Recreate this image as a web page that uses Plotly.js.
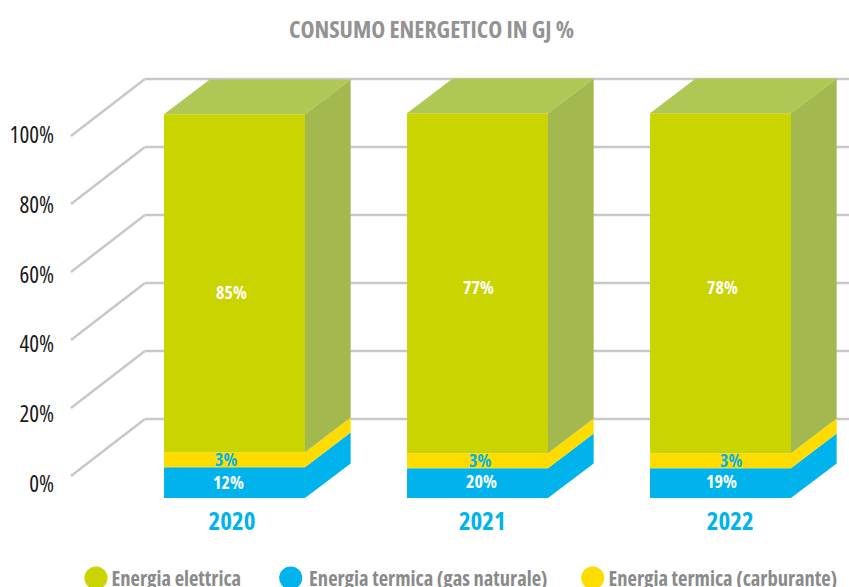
<!DOCTYPE html>
<html>
<head>
<meta charset="utf-8">
<script src="https://cdn.plot.ly/plotly-3.0.1.min.js"></script>
<style>html,body{margin:0;padding:0;background:#fff;overflow:hidden}#chart{width:849px;height:587px}
.main-svg text{font-stretch:75%}</style>
</head>
<body>
<div id="chart"></div>
<script>
// Categories and printed values
const years = ['2020', '2021', '2022'];
const seriesNames = ['Energia elettrica', 'Energia termica (gas naturale)', 'Energia termica (carburante)'];
const printedElettrica = [85, 77, 78];
const printedGas = [12, 20, 19];
const printedCarburante = [3, 3, 3];

// Heights of the blocks as they are drawn in the picture (y-axis units)
const drawnBase = [-6.5, -6.5, -6.5];
const drawnGas = [9.1, 8.8, 8.8];
const drawnCarburante = [4.4, 4.4, 4.4];
const drawnElettrica = [99.4, 100, 100];

// Axis ticks
const tickValues = [0, 20, 40, 60, 80, 100];
const tickLabels = ['0%', '20%', '40%', '60%', '80%', '100%'];

const FONT = '"Open Sans", sans-serif';
const COL = {green: '#CAD400', greenSide: '#A3B84E', greenTop: '#AFC755', blue: '#00B3EC', yellow: '#FFDC00',
             grid: '#C8C8C8', grey: '#8A8A8A', tick: '#1A1A1A'};
const BAR_W = 0.58, BAR_DX = 0.188, BAR_DY = 10.2, GRID_DX = 0.3045, GRID_DY = 16.76;
const X_MIN = -0.7387, X_MAX = 2.5288, Y_MIN = -8.235, Y_MAX = 140;

const idx = years.map((_, i) => i);
const baseGas = drawnBase;
const baseCarb = baseGas.map((b, i) => b + drawnGas[i]);
const baseElet = baseCarb.map((b, i) => b + drawnCarburante[i]);
const topElet = baseElet.map((b, i) => b + drawnElettrica[i]);

function bar(h, b, color) {
  return {type: 'bar', x: idx, y: h, base: b, width: BAR_W, marker: {color: color, line: {width: 0}},
          hoverinfo: 'skip', showlegend: false};
}
function poly(xs, ys, color) {
  return {type: 'scatter', mode: 'lines', x: xs, y: ys, fill: 'toself', fillcolor: color,
          line: {width: 0, color: color}, hoverinfo: 'skip', showlegend: false};
}
function sideFace(b, h, color) {
  const xs = [], ys = [];
  idx.forEach(i => {
    const r = i + BAR_W / 2, y0 = b[i], y1 = b[i] + h[i];
    xs.push(r, r + BAR_DX, r + BAR_DX, r, r, null);
    ys.push(y0, y0 + BAR_DY, y1 + BAR_DY, y1, y0, null);
  });
  return poly(xs, ys, color);
}
function topFace(t, color) {
  const xs = [], ys = [];
  idx.forEach(i => {
    const l = i - BAR_W / 2, r = i + BAR_W / 2;
    xs.push(l, r, r + BAR_DX, l + BAR_DX, l, null);
    ys.push(t[i], t[i], t[i] + BAR_DY, t[i] + BAR_DY, t[i], null);
  });
  return poly(xs, ys, color);
}

const data = [
  bar(drawnGas, baseGas, COL.blue),
  bar(drawnCarburante, baseCarb, COL.yellow),
  bar(drawnElettrica, baseElet, COL.green),
  sideFace(baseGas, drawnGas, COL.blue),
  sideFace(baseCarb, drawnCarburante, COL.yellow),
  sideFace(baseElet, drawnElettrica, COL.greenSide),
  topFace(topElet, COL.greenTop)
];

// Gridlines: back wall plus the receding part on the side wall
const GRID_START = X_MIN + 0.0658;
const shapes = [];
tickValues.forEach(v => {
  const line = (x0, y0, x1, y1) => ({type: 'line', layer: 'below', xref: 'x', yref: 'y', x0, y0, x1, y1,
    line: {color: COL.grid, width: 2.5}});
  shapes.push(line(GRID_START, v, GRID_START + GRID_DX, v + GRID_DY));
  shapes.push(line(GRID_START + GRID_DX, v + GRID_DY, X_MAX, v + GRID_DY));
});

// Legend drawn below the plot in paper coordinates
const legendDotX = [0.0516, 0.2969, 0.6772];
const legendTextX = [0.1530, 0.4704, 0.8419];
const legendY = -0.1468;
const legendColors = [COL.green, COL.blue, COL.yellow];
legendDotX.forEach((x, i) => shapes.push({type: 'circle', xref: 'paper', yref: 'paper', xsizemode: 'pixel', ysizemode: 'pixel',
  xanchor: x, yanchor: legendY, x0: -11.5, x1: 11.5, y0: -11.5, y1: 11.5,
  fillcolor: legendColors[i], line: {width: 0}}));

// Printed data labels, with small pixel nudges as seen in the picture
function labels(vals, b, h, color, dx, dy) {
  return vals.map((v, i) => ({x: i, y: b[i] + h[i] / 2, xref: 'x', yref: 'y', text: v + '%', showarrow: false,
    xshift: dx[i], yshift: dy[i], font: {family: FONT, size: 18, color: color, weight: 700}}));
}
const annotations = [
  ...labels(printedElettrica, baseElet, drawnElettrica, '#FFFFFF', [-3, 1, 2], [-9, -4, -4]),
  ...labels(printedGas, baseGas, drawnGas, '#FFFFFF', [-6, 4, 1], [1, 2, 2]),
  ...labels(printedCarburante, baseCarb, drawnCarburante, COL.blue, [-8, 3, 11], [1, 1, 1]),
  ...seriesNames.map((t, i) => ({xref: 'paper', yref: 'paper', x: legendTextX[i], y: legendY, xanchor: 'center', yanchor: 'middle',
    text: t, showarrow: false, font: {family: FONT, size: 20.5, color: COL.grey, weight: 700}}))
];

const layout = {
  width: 849, height: 587,
  margin: {l: 55, r: 0, t: 0, b: 83, pad: 0},
  paper_bgcolor: '#FFFFFF', plot_bgcolor: '#FFFFFF',
  barmode: 'overlay',
  showlegend: false,
  title: {text: 'CONSUMO ENERGETICO IN GJ %', x: 0.5083, xanchor: 'center', y: 0.95, yanchor: 'middle',
          font: {family: FONT, size: 23.7, color: '#939393', weight: 700}},
  xaxis: {range: [X_MIN, X_MAX], showgrid: false, zeroline: false, showline: false, ticks: '',
          tickmode: 'array', tickvals: [-0.01, 1.02, 2.04], ticktext: years,
          tickfont: {family: FONT, size: 25, color: COL.blue, weight: 700}},
  yaxis: {range: [Y_MIN, Y_MAX], showgrid: false, zeroline: false, showline: false, ticks: '',
          tickmode: 'array', tickvals: tickValues.map(v => v * 1.0263 - 2.35), ticktext: tickLabels,
          tickfont: {family: FONT, size: 23, color: COL.tick}},
  shapes: shapes,
  annotations: annotations
};
Plotly.newPlot('chart', data, layout, {displayModeBar: false, staticPlot: true});
</script>
</body>
</html>
